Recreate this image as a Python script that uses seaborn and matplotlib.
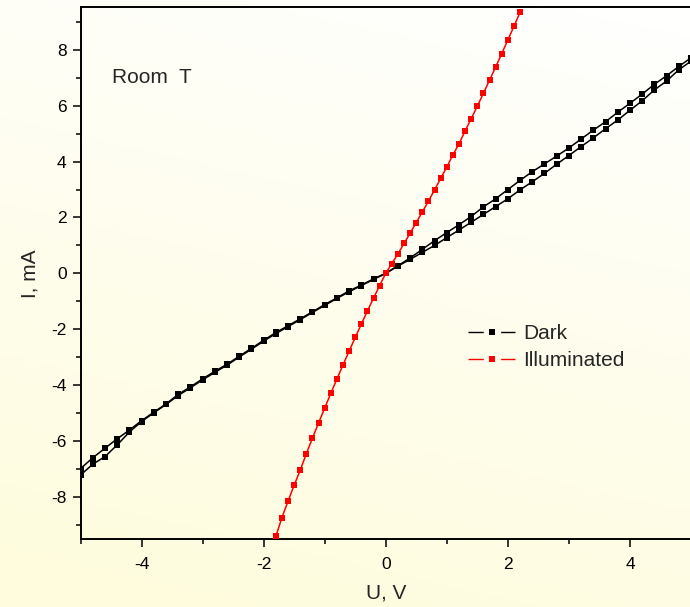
import numpy as np
import pandas as pd
import matplotlib
matplotlib.use("Agg")
import matplotlib.pyplot as plt
from matplotlib.lines import Line2D
from matplotlib.legend_handler import HandlerTuple
from matplotlib.ticker import MultipleLocator
import seaborn as sns

# Dark I-V curve: forward and reverse sweeps, 0.2 V step
u_dark = [-5.0, -4.8, -4.6, -4.4, -4.2, -4.0, -3.8, -3.6, -3.4, -3.2, -3.0,
          -2.8, -2.6, -2.4, -2.2, -2.0, -1.8, -1.6, -1.4, -1.2, -1.0,
          -0.8, -0.6, -0.4, -0.2, 0.0, 0.2, 0.4, 0.6, 0.8, 1.0,
          1.2, 1.4, 1.6, 1.8, 2.0, 2.2, 2.4, 2.6, 2.8, 3.0,
          3.2, 3.4, 3.6, 3.8, 4.0, 4.2, 4.4, 4.6, 4.8, 5.0]
i_dark_fwd = [-7.00, -6.61, -6.27, -5.93, -5.62, -5.28, -4.98, -4.68, -4.34, -4.07, -3.78,
              -3.51, -3.26, -2.97, -2.69, -2.40, -2.12, -1.88, -1.63, -1.38, -1.12,
              -0.88, -0.63, -0.42, -0.20, 0.00, 0.27, 0.55, 0.86, 1.17, 1.46,
              1.74, 2.04, 2.38, 2.67, 3.00, 3.33, 3.64, 3.92, 4.20, 4.49,
              4.81, 5.13, 5.43, 5.77, 6.09, 6.42, 6.77, 7.08, 7.41, 7.72]
i_dark_rev = [-7.23, -6.84, -6.57, -6.15, -5.69, -5.31, -5.00, -4.70, -4.38, -4.10, -3.82,
              -3.55, -3.29, -3.00, -2.72, -2.43, -2.16, -1.91, -1.66, -1.40, -1.15,
              -0.90, -0.66, -0.44, -0.22, 0.00, 0.26, 0.50, 0.75, 1.00, 1.28,
              1.55, 1.83, 2.11, 2.39, 2.67, 2.99, 3.28, 3.58, 3.91, 4.22,
              4.54, 4.85, 5.18, 5.49, 5.84, 6.18, 6.57, 6.89, 7.29, 7.60]

# Illuminated I-V curve, 0.1 V step
u_light = [-1.8, -1.7, -1.6, -1.5, -1.4, -1.3, -1.2, -1.1, -1.0, -0.9, -0.8,
           -0.7, -0.6, -0.5, -0.4, -0.3, -0.2, -0.1, 0.0, 0.1, 0.2,
           0.3, 0.4, 0.5, 0.6, 0.7, 0.8, 0.9, 1.0, 1.1, 1.2,
           1.3, 1.4, 1.5, 1.6, 1.7, 1.8, 1.9, 2.0, 2.1, 2.2]
i_light = [-9.42, -8.75, -8.16, -7.59, -7.05, -6.46, -5.90, -5.36, -4.83, -4.30, -3.79,
           -3.28, -2.79, -2.30, -1.82, -1.35, -0.89, -0.44, 0.00, 0.35, 0.70,
           1.07, 1.44, 1.82, 2.20, 2.59, 2.99, 3.40, 3.81, 4.24, 4.64,
           5.10, 5.54, 5.99, 6.45, 6.92, 7.39, 7.87, 8.36, 8.85, 9.35]

x_ticks = [-4, -2, 0, 2, 4]
y_ticks = [-8, -6, -4, -2, 0, 2, 4, 6, 8]

frames = [
    pd.DataFrame({"U": u_dark, "I": i_dark_fwd, "sample": "Dark", "sweep": "fwd"}),
    pd.DataFrame({"U": u_dark, "I": i_dark_rev, "sample": "Dark", "sweep": "rev"}),
    pd.DataFrame({"U": u_light, "I": i_light, "sample": "Illuminated", "sweep": "fwd"}),
]
df = pd.concat(frames, ignore_index=True)

sns.set_style("ticks")
plt.rcParams["font.family"] = ["Liberation Sans", "DejaVu Sans"]
plt.rcParams["axes.unicode_minus"] = False

W, H = 690, 607
fig = plt.figure(figsize=(W / 100, H / 100), dpi=100)

# soft cream-to-white background wash
bg = fig.add_axes([0, 0, 1, 1], zorder=-10)
uu, vv = np.meshgrid(np.linspace(0, 1, 200), np.linspace(0, 1, 200))
s = np.clip(0.85 * vv + 0.22 * (1 - uu) - 0.05, 0, 1)
white = np.array([255, 255, 253]) / 255
cream = np.array([254, 252, 220]) / 255
img = white[None, None, :] * (1 - s[..., None]) + cream[None, None, :] * s[..., None]
bg.imshow(img, aspect="auto", extent=[0, 1, 0, 1], origin="upper")
bg.set_axis_off()

ax = fig.add_axes([80.5 / W, 1 - 539.3 / H, 610.5 / W, 532.0 / H])
ax.set_facecolor("none")

palette = {"Dark": "black", "Illuminated": "#ff0000"}
sns.lineplot(data=df, x="U", y="I", hue="sample", units="sweep", estimator=None,
             sort=False, palette=palette, marker="s", markersize=3.8,
             markeredgewidth=0, linewidth=1.1, legend=False, ax=ax, zorder=3)

ax.set_xlim(-5, 5)
ax.set_ylim(-9.53, 9.53)
ax.set_xticks(x_ticks)
ax.set_yticks(y_ticks)
ax.xaxis.set_minor_locator(MultipleLocator(1))
ax.yaxis.set_minor_locator(MultipleLocator(1))
ax.tick_params(which="major", direction="out", length=6, width=1.1, labelsize=12.5,
               color="black", labelcolor="black")
ax.tick_params(which="minor", direction="out", length=3.5, width=1.1, color="black")
ax.tick_params(axis="x", which="major", pad=7)
ax.tick_params(axis="y", which="major", pad=4)
for side in ["left", "bottom", "top"]:
    ax.spines[side].set_linewidth(1.4)
    ax.spines[side].set_color("black")
ax.spines["right"].set_visible(False)

ax.set_xlabel("U, V", fontsize=15)
ax.set_ylabel("I, mA", fontsize=15)
ax.xaxis.set_label_coords(0.5, -0.083)
ax.yaxis.set_label_coords(-0.067, 0.5)

ax.text(-4.49, 6.81, "Room  T", fontsize=15, va="baseline", ha="left")

def legend_handle(color):
    seg = Line2D([], [], color=color, linewidth=1.0, linestyle=(0, (11, 12.5, 11, 0.01)))
    dot = Line2D([], [], color=color, linestyle="none", marker="s",
                 markersize=3.8, markeredgewidth=0)
    return (seg, dot)

ax.legend([legend_handle("black"), legend_handle("#ff0000")], ["Dark", "Illuminated"],
          handler_map={tuple: HandlerTuple(ndivide=1, pad=0)},
          loc="upper left", bbox_to_anchor=(0.635, 0.405), frameon=False,
          fontsize=15, handlelength=2.26, handletextpad=0.37,
          borderpad=0, borderaxespad=0, labelspacing=0.39, numpoints=1)

fig.savefig("out.png", dpi=100)
